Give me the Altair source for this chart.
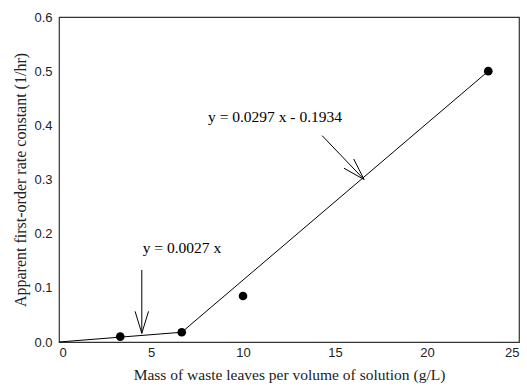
import math
import altair as alt
import pandas as pd

# data
pt_x = [3.33, 6.67, 10.0, 23.33]
pt_y = [0.010, 0.018, 0.085, 0.500]

# fitted line segments (x1, y1, x2, y2)
seg_x1 = [0.0, 6.67]
seg_y1 = [0.0, 0.018]
seg_x2 = [6.67, 23.33]
seg_y2 = [0.018, 0.500]

# annotations
lab_text = ["y = 0.0027 x", "y = 0.0297 x - 0.1934"]
lab_x = [6.68, 11.74]
lab_y = [0.174, 0.415]

# arrows (start -> tip)
arr_x1 = [4.50, 14.3]
arr_y1 = [0.133, 0.381]
arr_x2 = [4.50, 16.58]
arr_y2 = [0.016, 0.300]

W, H = 460, 325
XMAX, YMAX = 25.0, 0.6
sx = W / XMAX
sy = H / YMAX

rows = []
for x1, y1, x2, y2 in zip(arr_x1, arr_y1, arr_x2, arr_y2):
    rows.append(dict(x=x1, y=y1, x2=x2, y2=y2))
    dx = (x2 - x1) * sx
    dy = (y2 - y1) * sy
    ang = math.atan2(dy, dx)
    L = 23
    for s in (-1, 1):
        a = ang + math.pi + s * math.radians(17)
        bx = x2 + L * math.cos(a) / sx
        by = y2 + L * math.sin(a) / sy
        rows.append(dict(x=x2, y=y2, x2=bx, y2=by))
arrows = pd.DataFrame(rows)

segs = pd.DataFrame(dict(x=seg_x1, y=seg_y1, x2=seg_x2, y2=seg_y2))
pts = pd.DataFrame(dict(x=pt_x, y=pt_y))
labs = pd.DataFrame(dict(x=lab_x, y=lab_y, t=lab_text))

xs = alt.Scale(domain=[0, XMAX], nice=False)
ys = alt.Scale(domain=[0, YMAX], nice=False)

xax = alt.Axis(values=[0, 5, 10, 15, 20, 25], format="d", ticks=False, domain=False,
               grid=False, labelFont="Liberation Sans", labelFontSize=13,
               labelColor="#222", labelPadding=4, title="Mass of waste leaves per volume of solution (g/L)",
               titleFont="Liberation Serif", titleFontSize=15.5, titleFontWeight="normal",
               titleColor="#222", titlePadding=8)
yax = alt.Axis(values=[0, 0.1, 0.2, 0.3, 0.4, 0.5, 0.6], format=".1f", ticks=False, domain=False,
               grid=False, labelFont="Liberation Sans", labelFontSize=13,
               labelColor="#222", labelPadding=7, title="Apparent first-order rate constant (1/hr)",
               titleFont="Liberation Serif", titleFontSize=16, titleFontWeight="normal",
               titleColor="#222", titlePadding=5)

lines = alt.Chart(segs).mark_rule(color="black", strokeWidth=1).encode(
    x=alt.X("x:Q", scale=xs, axis=xax), y=alt.Y("y:Q", scale=ys, axis=yax),
    x2="x2:Q", y2="y2:Q")

arr = alt.Chart(arrows).mark_rule(color="black", strokeWidth=1).encode(
    x=alt.X("x:Q", scale=xs), y=alt.Y("y:Q", scale=ys), x2="x2:Q", y2="y2:Q")

points = alt.Chart(pts).mark_circle(color="black", size=75, opacity=1).encode(
    x=alt.X("x:Q", scale=xs), y=alt.Y("y:Q", scale=ys))

texts = alt.Chart(labs).mark_text(font="Liberation Serif", fontSize=15.5, color="black",
                                  align="center", baseline="middle").encode(
    x=alt.X("x:Q", scale=xs), y=alt.Y("y:Q", scale=ys), text="t:N")

chart = alt.layer(lines, arr, points, texts).properties(
    width=W, height=H,
    autosize=alt.AutoSizeParams(type="none"),
    padding={"left": 59, "top": 17, "right": 8, "bottom": 48},
    background="white",
).configure_view(stroke="#333", strokeWidth=1.2)

chart.save("out.html", embed_options={"renderer": "svg", "actions": False})
